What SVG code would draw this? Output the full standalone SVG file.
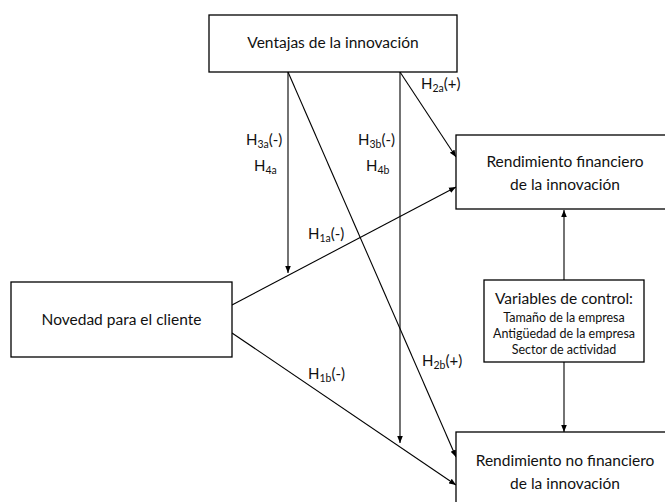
<svg xmlns="http://www.w3.org/2000/svg" width="665" height="502" viewBox="0 0 665 502">
<style>
.box{fill:#fff;stroke:#000;stroke-width:1.3}
.t{font-family:Lato,"Open Sans",sans-serif;font-size:15.5px;fill:#111;text-anchor:middle}
.s{font-family:Lato,"Open Sans",sans-serif;font-size:12.5px;fill:#111;text-anchor:middle}
.l{font-family:Lato,"Open Sans",sans-serif;font-size:15px;fill:#111}
.sub{font-size:10.5px}
.c line{stroke:#000;stroke-width:1.1;marker-end:url(#a)}
</style>
<defs>
<marker id="a" viewBox="0 0 10 10" refX="10" refY="5" markerWidth="7" markerHeight="7" markerUnits="userSpaceOnUse" orient="auto">
<path d="M0,1 L10,5 L0,9 z" fill="#000"/>
</marker>
</defs>
<g id="connectors" class="c">
<line x1="288" y1="72" x2="288" y2="273"/>
<line x1="288" y1="72" x2="456" y2="457"/>
<line x1="400" y1="72" x2="400" y2="443"/>
<line x1="400" y1="72" x2="456" y2="157"/>
<line x1="232" y1="305" x2="456" y2="187"/>
<line x1="232" y1="333" x2="456" y2="485"/>
<line x1="564" y1="280" x2="564" y2="210"/>
<line x1="564" y1="362" x2="564" y2="432"/>
</g>
<g id="ventajas">
<rect class="box" x="209" y="15" width="248" height="57"/>
<text class="t" x="333" y="48">Ventajas de la innovación</text>
</g>
<g id="novedad">
<rect class="box" x="11" y="282" width="221" height="75"/>
<text class="t" x="121.5" y="325">Novedad para el cliente</text>
</g>
<g id="financiero">
<rect class="box" x="456" y="135" width="210" height="74"/>
<text class="t" x="565" y="167">Rendimiento financiero</text>
<text class="t" x="565" y="190">de la innovación</text>
</g>
<g id="control">
<rect class="box" x="484" y="280" width="160" height="82"/>
<text class="t" x="564" y="304">Variables de control:</text>
<text class="s" x="564" y="322">Tamaño de la empresa</text>
<text class="s" x="564" y="338">Antigüedad de la empresa</text>
<text class="s" x="564" y="354">Sector de actividad</text>
</g>
<g id="nofinanciero">
<rect class="box" x="456" y="432" width="210" height="75"/>
<text class="t" x="565" y="466">Rendimiento no financiero</text>
<text class="t" x="565" y="489">de la innovación</text>
</g>
<g id="labels">
<text class="l" x="421" y="89">H<tspan class="sub" dy="3">2a</tspan><tspan dy="-3">(+)</tspan></text>
<text class="l" x="246" y="145">H<tspan class="sub" dy="3">3a</tspan><tspan dy="-3">(-)</tspan></text>
<text class="l" x="254" y="171">H<tspan class="sub" dy="3">4a</tspan></text>
<text class="l" x="358" y="145">H<tspan class="sub" dy="3">3b</tspan><tspan dy="-3">(-)</tspan></text>
<text class="l" x="366" y="171">H<tspan class="sub" dy="3">4b</tspan></text>
<text class="l" x="308" y="239">H<tspan class="sub" dy="3">1a</tspan><tspan dy="-3">(-)</tspan></text>
<text class="l" x="308" y="379">H<tspan class="sub" dy="3">1b</tspan><tspan dy="-3">(-)</tspan></text>
<text class="l" x="422" y="366">H<tspan class="sub" dy="3">2b</tspan><tspan dy="-3">(+)</tspan></text>
</g>
</svg>
